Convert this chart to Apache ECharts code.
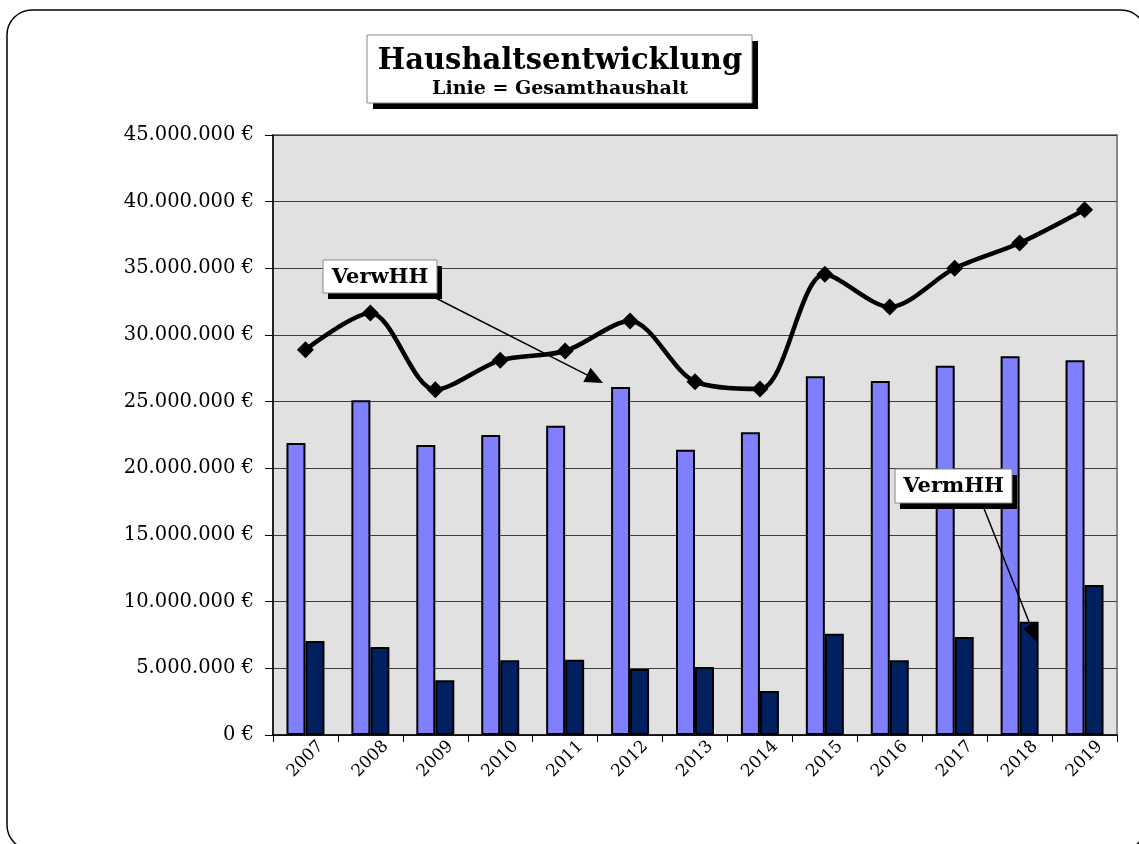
<!DOCTYPE html>
<html>
<head>
<meta charset="utf-8">
<title>Haushaltsentwicklung</title>
<script src="https://cdn.jsdelivr.net/npm/echarts@6/dist/echarts.min.js"></script>
<style>
  html, body { margin: 0; padding: 0; background: #fff; }
  #chart { width: 1139px; height: 844px; }
</style>
</head>
<body>
<div id="chart"></div>
<script>
// data (euros)
var years = ['2007', '2008', '2009', '2010', '2011', '2012', '2013', '2014', '2015', '2016', '2017', '2018', '2019'];
var verwHH = [21900000, 25100000, 21750000, 22500000, 23200000, 26100000, 21400000, 22700000, 26900000, 26550000, 27700000, 28400000, 28100000];
var vermHH = [7050000, 6600000, 4100000, 5600000, 5650000, 4950000, 5100000, 3300000, 7600000, 5600000, 7350000, 8500000, 11250000];
var gesamt = [28900000, 31650000, 25900000, 28100000, 28800000, 31050000, 26500000, 25950000, 34550000, 32100000, 35000000, 36900000, 39400000];

var FONT = 'DejaVu Serif';

function euro(v) {
  return String(v).replace(/\B(?=(\d{3})+(?!\d))/g, '.') + ' €';
}

// callout arrow with filled triangle head
function arrow(x1, y1, x2, y2) {
  var a = Math.atan2(y2 - y1, x2 - x1), len = 18, w = 8;
  var bx = x2 - len * Math.cos(a), by = y2 - len * Math.sin(a);
  var nx = -Math.sin(a) * w, ny = Math.cos(a) * w;
  return [
    { type: 'line', shape: { x1: x1, y1: y1, x2: bx, y2: by }, style: { stroke: '#000', lineWidth: 1.5 }, z: 100 },
    { type: 'polygon', shape: { points: [[x2, y2], [bx + nx, by + ny], [bx - nx, by - ny]] }, style: { fill: '#000' }, z: 100 }
  ];
}

function callout(x, y, w, h, text) {
  return [
    { type: 'rect', shape: { x: x + 5, y: y + 6, width: w, height: h }, style: { fill: '#000' }, z: 100 },
    { type: 'rect', shape: { x: x, y: y, width: w, height: h }, style: { fill: '#fff', stroke: '#888', lineWidth: 1 }, z: 101 },
    { type: 'text', x: x + w / 2, y: y + h / 2 + 1, style: { text: text, font: 'bold 21px "DejaVu Serif"', fill: '#000', align: 'center', verticalAlign: 'middle' }, z: 102 }
  ];
}

var chart = echarts.init(document.getElementById('chart'));

var graphic = [
  // outer frame (right and bottom edges run off the page)
  { type: 'rect', shape: { x: 7, y: 10, width: 1139, height: 840, r: 25 }, style: { fill: '#fff', stroke: '#000', lineWidth: 1.5 }, z: -9 },
  // title box
  { type: 'rect', shape: { x: 373, y: 41, width: 385, height: 68 }, style: { fill: '#000' }, z: 100 },
  { type: 'rect', shape: { x: 367, y: 35, width: 385, height: 68 }, style: { fill: '#fff', stroke: '#888', lineWidth: 1 }, z: 101 },
  { type: 'text', x: 560, y: 61, style: { text: 'Haushaltsentwicklung', font: 'bold 29px "DejaVu Serif"', fill: '#000', align: 'center', verticalAlign: 'middle' }, z: 102 },
  { type: 'text', x: 560, y: 89, style: { text: 'Linie = Gesamthaushalt', font: 'bold 19px "DejaVu Serif"', fill: '#000', align: 'center', verticalAlign: 'middle' }, z: 102 }
]
  .concat(callout(323, 260, 114, 33, 'VerwHH'))
  .concat(arrow(410, 285, 603, 383))
  .concat(callout(895, 469, 117, 34, 'VermHH'))
  .concat(arrow(983, 506, 1037, 642));

chart.setOption({
  animation: false,
  textStyle: { fontFamily: FONT },
  graphic: graphic,
  grid: {
    left: 273,
    right: 22,
    top: 135,
    bottom: 109,
    show: true,
    backgroundColor: '#e1e1e1',
    borderColor: '#8a8a8a',
    borderWidth: 2
  },
  xAxis: {
    type: 'category',
    data: years,
    axisLine: { lineStyle: { color: '#000', width: 1.5 } },
    axisTick: { show: true, length: 7, lineStyle: { color: '#000' } },
    axisLabel: { rotate: 45, align: 'center', color: '#000', fontSize: 17, fontFamily: FONT, margin: 24 }
  },
  yAxis: {
    type: 'value',
    min: 0,
    max: 45000000,
    interval: 5000000,
    axisLine: { show: true, lineStyle: { color: '#000', width: 1.5 } },
    axisTick: { show: true, length: 8, lineStyle: { color: '#000' } },
    axisLabel: { color: '#000', fontSize: 19.5, fontFamily: FONT, margin: 19, formatter: euro },
    splitLine: { lineStyle: { color: '#3c3c3c', width: 1 } }
  },
  series: [
    {
      name: 'VerwHH',
      type: 'bar',
      data: verwHH,
      barWidth: 19,
      barGap: '0%',
      itemStyle: { color: '#8080ff', borderColor: '#000', borderWidth: 2 }
    },
    {
      name: 'VermHH',
      type: 'bar',
      data: vermHH,
      barWidth: 19,
      barGap: '0%',
      itemStyle: { color: '#002060', borderColor: '#000', borderWidth: 2 }
    },
    {
      name: 'Gesamthaushalt',
      type: 'line',
      data: gesamt,
      smooth: 0.3,
      symbol: 'diamond',
      symbolSize: 17,
      z: 5,
      lineStyle: { color: '#000', width: 4.5 },
      itemStyle: { color: '#000' }
    }
  ]
});
</script>
</body>
</html>
